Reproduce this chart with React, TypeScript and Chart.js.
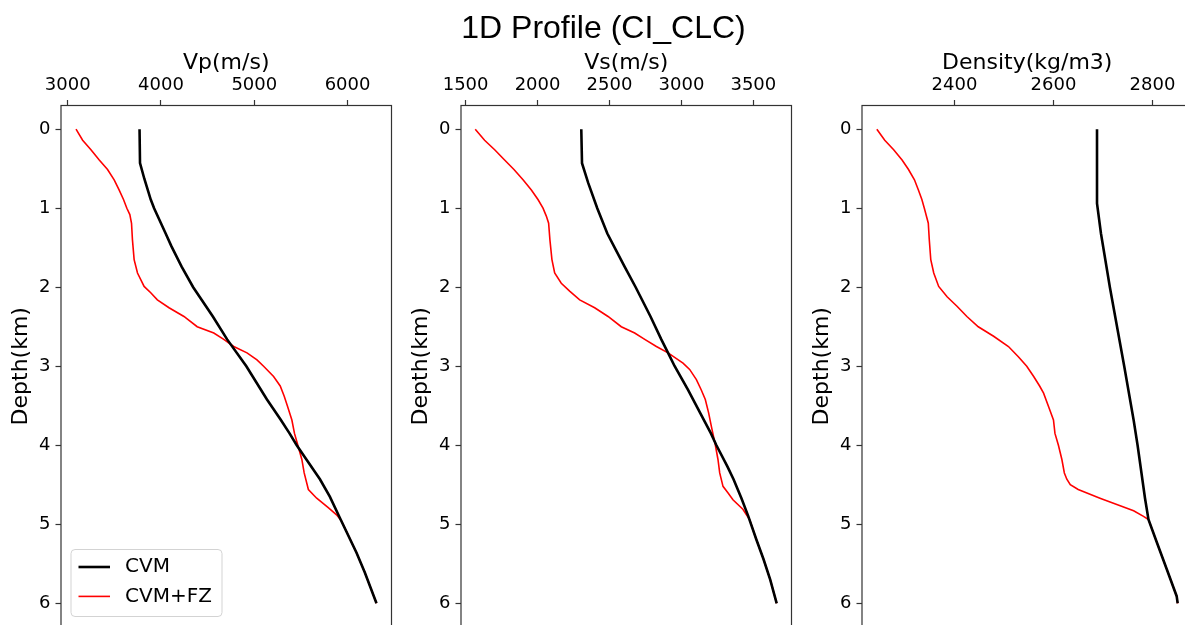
import React, { useEffect, useRef } from 'react';
import { Chart, registerables } from 'chart.js';

Chart.register(...registerables);

// ---- tick labels ----
const depthTicks = [0, 1, 2, 3, 4, 5, 6];
const vpTicks = [3000, 4000, 5000, 6000];
const vsTicks = [1500, 2000, 2500, 3000, 3500];
const rhoTicks = [2400, 2600, 2800];

// ---- Vp (m/s) ----
const vpCvmDepth = [0, 0.43, 0.63, 0.89, 1.0, 1.32, 1.48, 1.74, 2.0, 2.37, 2.66, 3.0, 3.42, 3.67, 3.85, 4.0, 4.2, 4.43, 4.65, 4.92, 5.36, 5.61, 6.0];
const vpCvm = [3770, 3775, 3822, 3890, 3926, 4050, 4111, 4221, 4345, 4556, 4709, 4915, 5136, 5280, 5378, 5455, 5570, 5704, 5810, 5918, 6096, 6185, 6310];
const vpFzDepth = [0, 0.14, 0.26, 0.39, 0.51, 0.64, 0.77, 0.89, 1.0, 1.08, 1.19, 1.4, 1.65, 1.82, 1.99, 2.07, 2.16, 2.26, 2.37, 2.5, 2.58, 2.66, 2.75, 2.83, 2.92, 3.0, 3.13, 3.25, 3.38, 3.51, 3.68, 3.85, 4.0, 4.18, 4.35, 4.56, 4.67, 4.79, 4.88, 4.96, 5.36, 5.61, 6.0];
const vpFz = [3089, 3160, 3249, 3338, 3427, 3498, 3552, 3598, 3634, 3666, 3684, 3694, 3712, 3748, 3819, 3890, 3961, 4086, 4246, 4388, 4566, 4673, 4780, 4922, 5029, 5100, 5207, 5278, 5321, 5357, 5403, 5431, 5467, 5510, 5535, 5580, 5669, 5793, 5882, 5936, 6096, 6185, 6310];

// ---- Vs (m/s) ----
const vsCvmDepth = [0, 0.43, 0.68, 1.0, 1.32, 1.53, 1.74, 2.0, 2.37, 2.66, 2.83, 3.0, 3.3, 3.59, 3.85, 4.0, 4.27, 4.43, 4.67, 4.9, 5.19, 5.44, 5.7, 6.0];
const vsCvm = [2304, 2309, 2352, 2415, 2485, 2545, 2605, 2682, 2785, 2860, 2907, 2953, 3046, 3130, 3205, 3243, 3320, 3362, 3417, 3465, 3520, 3570, 3617, 3662];
const vsFzDepth = [0, 0.14, 0.26, 0.39, 0.51, 0.64, 0.77, 0.89, 1.0, 1.1, 1.19, 1.4, 1.65, 1.82, 1.95, 2.05, 2.16, 2.26, 2.37, 2.5, 2.58, 2.66, 2.75, 2.83, 2.96, 3.04, 3.17, 3.3, 3.42, 3.59, 3.76, 4.0, 4.18, 4.35, 4.52, 4.6, 4.69, 4.81, 4.94, 5.19, 5.44, 5.7, 6.0];
const vsFz = [1567, 1632, 1702, 1771, 1836, 1899, 1957, 2003, 2038, 2061, 2077, 2086, 2100, 2119, 2165, 2223, 2293, 2397, 2490, 2582, 2675, 2745, 2826, 2907, 3011, 3057, 3104, 3138, 3166, 3189, 3208, 3236, 3254, 3266, 3289, 3323, 3358, 3427, 3474, 3520, 3570, 3617, 3662];

// ---- Density (kg/m3) ----
const rhoCvmDepth = [0, 0.94, 1.32, 2.0, 3.0, 3.68, 4.0, 4.67, 4.94, 5.23, 5.57, 5.91, 6.0];
const rhoCvm = [2688, 2688, 2696, 2714, 2743, 2762, 2770, 2785, 2792, 2809, 2829, 2849, 2851];
const rhoFzDepth = [0, 0.14, 0.26, 0.39, 0.51, 0.64, 0.77, 0.89, 1.0, 1.19, 1.4, 1.65, 1.82, 1.99, 2.12, 2.24, 2.37, 2.5, 2.62, 2.75, 2.88, 3.0, 3.13, 3.25, 3.34, 3.51, 3.68, 3.85, 4.0, 4.18, 4.35, 4.43, 4.5, 4.56, 4.67, 4.75, 4.83, 4.9, 4.94, 5.23, 5.57, 5.91, 6.0];
const rhoFz = [2243, 2259, 2277, 2294, 2307, 2319, 2327, 2334, 2339, 2347, 2349, 2352, 2358, 2368, 2385, 2405, 2425, 2448, 2479, 2509, 2529, 2546, 2560, 2572, 2580, 2590, 2600, 2603, 2610, 2617, 2622, 2627, 2634, 2650, 2694, 2728, 2762, 2782, 2792, 2809, 2829, 2849, 2851];

// ---- axis ranges ----
const depthRange = [-0.3, 6.3];
const vpRange = [2928, 6471];
const vsRange = [1468, 3765];
const rhoRange = [2213, 2881];

const seriesLabels = ['CVM', 'CVM+FZ'];
const mainTitle = '1D Profile (CI_CLC)';
const depthTitle = 'Depth(km)';

const FONT = "'DejaVu Sans', sans-serif";

const framePlugin = {
  id: 'frame',
  afterDatasetsDraw(chart: any) {
    const { ctx, chartArea: a } = chart;
    ctx.save();
    ctx.strokeStyle = '#333';
    ctx.lineWidth = 1.2;
    ctx.strokeRect(a.left, a.top, a.right - a.left, a.bottom - a.top);
    ctx.restore();
  },
};

const boxLegendPlugin = {
  id: 'boxLegend',
  afterDraw(chart: any, _args: any, opts: any) {
    if (!opts || !opts.show) return;
    const { ctx, chartArea: a } = chart;
    const w = 151;
    const h = 67;
    const x0 = a.left + 10;
    const y0 = a.bottom - 10.5 - h;
    ctx.save();
    ctx.beginPath();
    if (ctx.roundRect) ctx.roundRect(x0, y0, w, h, 4);
    else ctx.rect(x0, y0, w, h);
    ctx.fillStyle = 'rgba(255,255,255,0.8)';
    ctx.fill();
    ctx.strokeStyle = '#d3d3d3';
    ctx.lineWidth = 1;
    ctx.stroke();
    chart.data.datasets.forEach((ds: any, i: number) => {
      const yy = y0 + 17.5 + i * 29.4;
      ctx.beginPath();
      ctx.moveTo(x0 + 7.5, yy);
      ctx.lineTo(x0 + 39, yy);
      ctx.strokeStyle = ds.borderColor;
      ctx.lineWidth = ds.borderWidth;
      ctx.stroke();
      ctx.fillStyle = '#000';
      ctx.font = `20px ${FONT}`;
      ctx.textBaseline = 'middle';
      ctx.textAlign = 'left';
      ctx.fillText(ds.label, x0 + 54, yy);
    });
    ctx.restore();
  },
};

function toPoints(depths: number[], values: number[]) {
  return values.map((v, i) => ({ x: v, y: depths[i] }));
}

function makeConfig(
  cvmD: number[], cvmV: number[], fzD: number[], fzV: number[],
  xRange: number[], xTicks: number[], xTitle: string, showLegend: boolean,
): any {
  const gridOpts = {
    display: true,
    drawOnChartArea: false,
    drawTicks: true,
    tickLength: 5.5,
    tickColor: '#333',
    tickWidth: 1.2,
  };
  return {
    type: 'scatter',
    data: {
      datasets: [
        {
          label: seriesLabels[0],
          data: toPoints(cvmD, cvmV),
          showLine: true,
          borderColor: '#000000',
          backgroundColor: '#000000',
          borderWidth: 2.6,
          pointRadius: 0,
          pointHoverRadius: 0,
          tension: 0,
        },
        {
          label: seriesLabels[1],
          data: toPoints(fzD, fzV),
          showLine: true,
          borderColor: '#ff0000',
          backgroundColor: '#ff0000',
          borderWidth: 1.6,
          pointRadius: 0,
          pointHoverRadius: 0,
          tension: 0,
        },
      ],
    },
    options: {
      animation: false,
      responsive: false,
      events: [],
      layout: { padding: { left: 0, top: 0, right: 9.5, bottom: 33 } },
      plugins: {
        legend: { display: false },
        tooltip: { enabled: false },
        title: { display: false },
        boxLegend: { show: showLegend },
      },
      scales: {
        x: {
          type: 'linear',
          position: 'top',
          min: xRange[0],
          max: xRange[1],
          afterBuildTicks: (s: any) => { s.ticks = xTicks.map((v) => ({ value: v })); },
          afterFit: (s: any) => { s.height = 105.5; },
          ticks: {
            font: { family: FONT, size: 18 },
            color: '#000',
            padding: 3.5,
            maxRotation: 0,
            autoSkip: false,
            callback: (v: any) => String(v),
          },
          grid: gridOpts,
          border: { display: false },
          title: {
            display: true,
            text: xTitle,
            color: '#000',
            font: { family: FONT, size: 22 },
            padding: { top: 50, bottom: 0 },
          },
        },
        y: {
          type: 'linear',
          position: 'left',
          reverse: true,
          min: depthRange[0],
          max: depthRange[1],
          afterBuildTicks: (s: any) => { s.ticks = depthTicks.map((v) => ({ value: v })); },
          afterFit: (s: any) => { s.width = 60; },
          ticks: {
            font: { family: FONT, size: 18 },
            color: '#000',
            padding: 5,
            autoSkip: false,
            callback: (v: any) => String(v),
          },
          grid: gridOpts,
          border: { display: false },
          title: {
            display: true,
            text: depthTitle,
            color: '#000',
            font: { family: FONT, size: 22 },
            padding: { top: 7.5, bottom: 0 },
          },
        },
      },
    },
    plugins: [framePlugin, boxLegendPlugin],
  };
}

function Panel(props: { left: number; config: () => any }) {
  const ref = useRef<HTMLCanvasElement | null>(null);
  useEffect(() => {
    if (!ref.current) return;
    const chart = new Chart(ref.current, props.config());
    return () => chart.destroy();
  }, []);
  return (
    <canvas
      ref={ref}
      width={400}
      height={660}
      style={{ position: 'absolute', left: props.left, top: 0, width: 400, height: 660 }}
    />
  );
}

export default function App() {
  return (
    <div
      style={{
        position: 'fixed',
        left: 0,
        top: 0,
        width: 1185,
        height: 625,
        overflow: 'hidden',
        background: '#fff',
      }}
    >
      <Panel left={1} config={() => makeConfig(vpCvmDepth, vpCvm, vpFzDepth, vpFz, vpRange, vpTicks, 'Vp(m/s)', true)} />
      <Panel left={401} config={() => makeConfig(vsCvmDepth, vsCvm, vsFzDepth, vsFz, vsRange, vsTicks, 'Vs(m/s)', false)} />
      <Panel left={802} config={() => makeConfig(rhoCvmDepth, rhoCvm, rhoFzDepth, rhoFz, rhoRange, rhoTicks, 'Density(kg/m3)', false)} />
      <div
        style={{
          position: 'absolute',
          left: 0,
          width: 1207,
          top: 11,
          textAlign: 'center',
          fontFamily: "'Liberation Sans', Arial, sans-serif",
          fontSize: 32,
          lineHeight: '32px',
          color: '#000',
          whiteSpace: 'nowrap',
        }}
      >
        {mainTitle}
      </div>
    </div>
  );
}
